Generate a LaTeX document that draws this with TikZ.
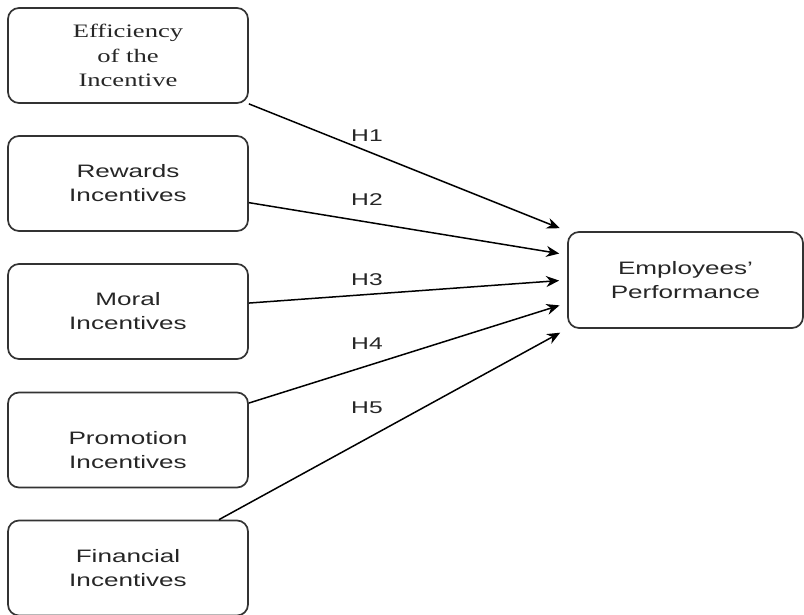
\documentclass[tikz,border=0pt]{standalone}
\usepackage{fontspec}
\setmainfont{Liberation Sans}
\newfontfamily\widesans[FakeStretch=1.45]{Liberation Sans}
\newfontfamily\wideserif[FakeStretch=1.4]{Liberation Serif}
\usetikzlibrary{arrows.meta}

\begin{document}
\begin{tikzpicture}[x=1pt,y=-1pt,
  box/.style={draw=black!80,line width=1.7pt,rounded corners=11pt,
    minimum width=240pt,minimum height=95pt,align=center,text=black!85,
    font=\widesans\fontsize{18}{24}\selectfont},
  hyp/.style={-{Stealth[length=13pt,width=11pt]},line width=1.5pt,shorten >=8pt},
  hlabel/.style={text=black!85,font=\widesans\fontsize{17}{20}\selectfont}]
\useasboundingbox (0,0) rectangle (804,614);
% left: the five incentive boxes
\node[box,font=\wideserif\fontsize{19}{24.5}\selectfont] (eff) at (128,55.5) {Efficiency\\of the\\Incentive};
\node[box] (rew) at (128,183.5) {Rewards\\Incentives};
\node[box] (mor) at (128,311.5) {Moral\\Incentives};
\node[box,label={[align=center,text=black!85,font=\widesans\fontsize{18}{24}\selectfont,yshift=-10pt]center:Promotion\\Incentives}] (pro) at (128,440) {};
\node[box] (fin) at (128,568) {Financial\\Incentives};
% right: outcome
\node[box,minimum width=235pt,minimum height=96pt] (emp) at (685.5,280) {Employees’\\Performance};
% hypotheses
\draw[hyp] (eff.south east) -- (emp.north west);
\draw[hyp] (rew.-9) -- (emp.168.5);
\draw[hyp] (mor.4.5) -- (emp.west);
\draw[hyp] (pro.17) -- (emp.191.5);
\draw[hyp] (fin.28) -- (emp.south west);
\node[hlabel] (h1) at (367,136) {H1};
\node[hlabel] (h2) at (367,200) {H2};
\node[hlabel] (h3) at (367,280) {H3};
\node[hlabel] (h4) at (367,344) {H4};
\node[hlabel] (h5) at (367,408) {H5};
\end{tikzpicture}
\end{document}
